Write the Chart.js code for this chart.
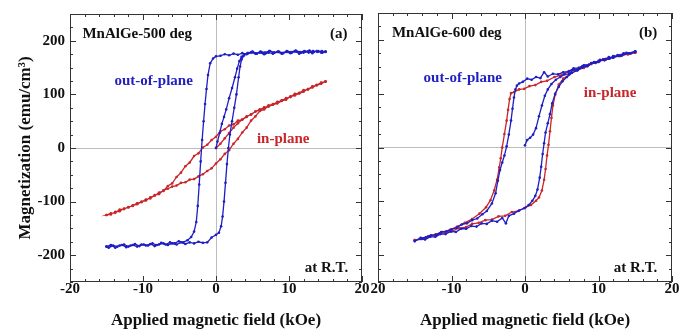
<!DOCTYPE html>
<html>
<head>
<meta charset="utf-8">
<script src="https://cdn.jsdelivr.net/npm/chart.js@4.4.1/dist/chart.umd.min.js"></script>
<style>
  html, body { margin: 0; padding: 0; background: #fff; }
  #wrap { position: relative; width: 694px; height: 331px; }
  canvas { position: absolute; left: 0; top: 0; }
</style>
</head>
<body>
<div id="wrap">
  <canvas id="chartA" width="694" height="331" style="width:694px;height:331px"></canvas>
  <canvas id="chartB" width="694" height="331" style="width:694px;height:331px"></canvas>
</div>
<script>
/* eixos */
const xTicks = [-20, -10, 0, 10, 20];
const yTicks = [-200, -100, 0, 100, 200];
const xMinorStep = 2;
const yMinorStep = 25;

/* (a) MnAlGe-500 deg, out-of-plane: virgem, descida, subida [H kOe, M emu/cm3] */
const aOutVirgin = [[0,0],[0.2,12],[0.5,28],[0.8,45],[1.1,58],[1.4,72],[1.8,93],[2.2,112],[2.6,132],[2.9,148],[3.2,162],[3.5,170],[3.9,175],[4.4,177],[5,180],[5.6,176],[6.2,179],[6.8,177],[7.4,181],[8,178],[8.6,180],[9.2,177],[9.8,180],[10.4,178],[11,181],[11.6,178],[12.2,180],[12.8,182],[13.4,179],[14,181],[14.6,178],[15,180]];
const aOutDown = [[15,180],[14.4,178],[13.8,181],[13.2,177],[12.6,180],[12,178],[11.4,176],[10.8,180],[10.2,177],[9.6,179],[9,176],[8.4,179],[7.8,176],[7.2,178],[6.6,175],[6,178],[5.4,176],[4.8,178],[4.2,175],[3.6,177],[3,174],[2.4,176],[1.8,173],[1.2,175],[0.6,172],[0,171],[-0.4,167],[-0.8,158],[-1.1,136],[-1.3,110],[-1.5,82],[-1.7,50],[-1.9,15],[-2.1,-25],[-2.3,-68],[-2.5,-108],[-2.7,-138],[-3,-156],[-3.4,-166],[-3.9,-172],[-4.5,-176],[-5.1,-174],[-5.7,-178],[-6.3,-176],[-6.9,-180],[-7.5,-177],[-8.1,-181],[-8.7,-178],[-9.3,-182],[-9.9,-180],[-10.5,-183],[-11.1,-179],[-11.7,-182],[-12.3,-185],[-12.9,-181],[-13.5,-184],[-14.1,-182],[-14.7,-186],[-15,-184]];
const aOutUp = [[-15,-184],[-14.4,-181],[-13.8,-186],[-13.2,-182],[-12.6,-180],[-12,-184],[-11.4,-181],[-10.8,-184],[-10.2,-180],[-9.6,-182],[-9,-179],[-8.4,-183],[-7.8,-180],[-7.2,-178],[-6.6,-181],[-6,-178],[-5.4,-180],[-4.8,-176],[-4.2,-179],[-3.6,-176],[-3,-178],[-2.4,-175],[-1.8,-177],[-1.2,-176],[-0.6,-167],[0,-162],[0.4,-158],[0.7,-146],[0.9,-128],[1.1,-100],[1.3,-65],[1.5,-30],[1.7,0],[1.9,25],[2.2,50],[2.5,75],[2.8,100],[3.1,132],[3.3,152],[3.5,165],[3.8,172],[4.3,177],[4.9,179],[5.5,176],[6.1,180],[6.7,178],[7.3,181],[7.9,178],[8.5,180],[9.1,177],[9.7,181],[10.3,179],[10.9,182],[11.5,179],[12.1,181],[12.7,178],[13.3,181],[13.9,179],[14.5,181],[15,179]];

/* (a) in-plane */
const aInVirgin = [[0,0],[0.6,8],[1.2,18],[1.8,28],[2.4,38],[3,46],[3.6,53],[4.2,58],[4.8,63],[5.4,68],[6,72],[6.6,75],[7.2,79],[7.8,82],[8.4,85],[9,89],[9.6,92],[10.2,96],[10.8,100],[11.4,103],[12,107],[12.6,110],[13.2,114],[13.8,118],[14.4,121],[15,124]];
const aInDown = [[15,124],[14.4,120],[13.8,117],[13.2,113],[12.6,110],[12,105],[11.4,102],[10.8,98],[10.2,96],[9.6,90],[9,88],[8.4,83],[7.8,81],[7.2,77],[6.6,76],[6,71],[5.4,68],[4.8,62],[4.2,59],[3.6,53],[3,51],[2.4,44],[1.8,42],[1.2,35],[0.6,31],[0,21],[-0.6,15],[-1.2,6],[-1.8,1],[-2.4,-10],[-3,-15],[-3.6,-27],[-4.2,-34],[-4.8,-46],[-5.4,-54],[-6,-66],[-6.6,-71],[-7.2,-80],[-7.8,-83],[-8.4,-89],[-9,-92],[-9.6,-98],[-10.2,-100],[-10.8,-105],[-11.4,-107],[-12,-111],[-12.6,-113],[-13.2,-118],[-13.8,-119],[-14.4,-124],[-15,-125]];
const aInUp = [[-15,-125],[-14.4,-122],[-13.8,-121],[-13.2,-115],[-12.6,-114],[-12,-110],[-11.4,-108],[-10.8,-103],[-10.2,-101],[-9.6,-96],[-9,-94],[-8.4,-88],[-7.8,-86],[-7.2,-79],[-6.6,-76],[-6,-72],[-5.4,-70],[-4.8,-65],[-4.2,-64],[-3.6,-59],[-3,-58],[-2.4,-53],[-1.8,-49],[-1.2,-43],[-0.6,-38],[0,-29],[0.6,-21],[1.2,-11],[1.8,-4],[2.4,8],[3,17],[3.6,29],[4.2,38],[4.8,51],[5.4,59],[6,69],[6.6,72],[7.2,79],[7.8,81],[8.4,86],[9,88],[9.6,93],[10.2,95],[10.8,101],[11.4,102],[12,108],[12.6,109],[13.2,115],[13.8,117],[14.4,122],[15,124]];

/* (b) MnAlGe-600 deg, out-of-plane */
const bOutVirgin = [[0,4],[0.3,14],[0.7,18],[1.1,24],[1.5,36],[1.9,58],[2.3,78],[2.7,96],[3.1,108],[3.6,118],[4.2,126],[4.8,131],[5.4,136],[6,137],[6.6,145],[7.2,144],[7.8,151],[8.4,151],[9,157],[9.6,157],[10.2,163],[10.8,162],[11.4,168],[12,167],[12.6,172],[13.2,171],[13.8,176],[14.4,175],[15,178]];
const bOutDown = [[15,178],[14.3,175],[13.6,174],[12.9,170],[12.2,169],[11.5,165],[10.8,164],[10.1,160],[9.4,159],[8.7,154],[8,153],[7.3,148],[6.6,147],[5.9,141],[5.2,140],[4.5,136],[3.8,137],[3.1,132],[2.6,140],[2.1,129],[1.5,131],[0.9,126],[0.3,128],[-0.3,122],[-0.8,119],[-1.1,115],[-1.3,108],[-1.5,93],[-1.7,72],[-1.9,50],[-2.2,24],[-2.5,2],[-2.8,-15],[-3.1,-28],[-3.4,-42],[-3.7,-62],[-4,-85],[-4.5,-104],[-5.2,-118],[-5.8,-124],[-6.5,-132],[-7.2,-135],[-7.9,-141],[-8.6,-143],[-9.3,-149],[-10,-152],[-10.7,-156],[-11.4,-157],[-12.1,-162],[-12.8,-163],[-13.5,-167],[-14.2,-168],[-15,-174]];
const bOutUp = [[-15,-174],[-14.3,-170],[-13.6,-171],[-12.9,-166],[-12.2,-166],[-11.5,-161],[-10.8,-161],[-10.1,-156],[-9.4,-157],[-8.7,-151],[-8,-151],[-7.3,-146],[-6.6,-147],[-5.9,-141],[-5.2,-142],[-4.5,-136],[-3.8,-138],[-3.1,-131],[-2.6,-141],[-2.2,-127],[-1.5,-123],[-0.8,-117],[-0.1,-113],[0.5,-107],[1,-99],[1.4,-90],[1.7,-78],[2,-56],[2.2,-36],[2.4,-12],[2.6,8],[2.8,28],[3.1,45],[3.4,62],[3.7,82],[4.1,100],[4.6,113],[5.1,123],[5.7,131],[6.4,139],[7.1,143],[7.8,149],[8.5,151],[9.2,157],[9.9,159],[10.6,164],[11.3,165],[12,170],[12.7,170],[13.4,175],[14.1,175],[15,179]];

/* (b) in-plane */
const bInDown = [[15,176],[14,174],[13,170],[12,168],[11,163],[10,161],[9,155],[8,152],[7,145],[6,142],[5,135],[4,131],[3,124],[2.2,122],[1.4,116],[0.6,114],[-0.1,109],[-0.8,108],[-1.5,103],[-1.9,101],[-2.1,90],[-2.3,70],[-2.5,50],[-2.8,25],[-3.1,0],[-3.3,-20],[-3.5,-37],[-3.8,-60],[-4.2,-80],[-4.7,-98],[-5.3,-111],[-6.2,-123],[-7.2,-133],[-8.2,-140],[-9.2,-147],[-10.2,-153],[-11.2,-157],[-12.2,-162],[-13.2,-165],[-14.2,-170],[-15,-172]];
const bInUp = [[-15,-172],[-14,-170],[-13,-165],[-12,-163],[-11,-158],[-10,-156],[-9,-150],[-8,-148],[-7.2,-142],[-6.3,-140],[-5.4,-135],[-4.5,-134],[-3.6,-128],[-2.7,-127],[-1.8,-120],[-0.9,-118],[0.1,-111],[0.8,-107],[1.5,-99],[1.9,-93],[2.3,-80],[2.6,-60],[2.8,-40],[3,-15],[3.2,5],[3.4,30],[3.6,55],[3.8,78],[4.1,98],[4.6,117],[5.2,128],[6,135],[7,144],[8,148],[9,156],[10,159],[11,165],[12,167],[13,172],[14,173],[15,176]];

/* textos dentro dos graficos [texto, H, M, cor, alinhamento] */
const notesA = [
  ['MnAlGe-500 deg', -18.3, 213, '#111', 'left'],
  ['(a)', 18, 213, '#111', 'right'],
  ['out-of-plane', -13.9, 125, '#1f1fc4', 'left'],
  ['in-plane', 5.6, 17, '#c8262a', 'left'],
  ['at R.T.', 18.1, -224, '#111', 'right']
];
const notesB = [
  ['MnAlGe-600 deg', -18.1, 213, '#111', 'left'],
  ['(b)', 18, 213, '#111', 'right'],
  ['out-of-plane', -13.8, 129, '#1f1fc4', 'left'],
  ['in-plane', 8, 101, '#c8262a', 'left'],
  ['at R.T.', 18, -224, '#111', 'right']
];

const BLUE = '#1f1fc4';
const RED = '#c8262a';
const serif = '"Liberation Serif", "Times New Roman", serif';

const toXY = arr => arr.map(p => ({ x: p[0], y: p[1] }));

function loopDataset(points, color) {
  return {
    data: toXY(points),
    borderColor: color,
    backgroundColor: color,
    borderWidth: 1.3,
    pointRadius: 1.3,
    pointBorderWidth: 0,
    pointHoverRadius: 0,
    showLine: true,
    tension: 0
  };
}

/* moldura, ticks internos e textos */
const frameTicks = {
  id: 'frameTicks',
  afterDraw(chart, args, opts) {
    const { ctx, chartArea: a, scales: { x, y } } = chart;
    ctx.save();
    ctx.strokeStyle = '#333';
    ctx.lineWidth = 1;
    ctx.strokeRect(a.left + 0.5, a.top + 0.5, a.right - a.left - 1, a.bottom - a.top - 1);
    ctx.beginPath();
    for (let v = x.min; v <= x.max; v += xMinorStep) {
      const px = Math.round(x.getPixelForValue(v)) + 0.5;
      const len = v % 10 === 0 ? 6 : 3;
      ctx.moveTo(px, a.bottom); ctx.lineTo(px, a.bottom - len);
      ctx.moveTo(px, a.top); ctx.lineTo(px, a.top + len);
    }
    for (let v = Math.ceil(y.min / yMinorStep) * yMinorStep; v <= y.max; v += yMinorStep) {
      const py = Math.round(y.getPixelForValue(v)) + 0.5;
      const len = v % 100 === 0 ? 6 : 3;
      ctx.moveTo(a.left, py); ctx.lineTo(a.left + len, py);
      ctx.moveTo(a.right, py); ctx.lineTo(a.right - len, py);
    }
    ctx.stroke();

    ctx.font = 'bold 15px ' + serif;
    ctx.textBaseline = 'middle';
    (opts.notes || []).forEach(n => {
      ctx.fillStyle = n[3];
      ctx.textAlign = n[4];
      ctx.fillText(n[0], x.getPixelForValue(n[1]), y.getPixelForValue(n[2]));
    });
    ctx.restore();
  }
};

function makeChart(id, datasets, notes, panel) {
  const isA = panel === 'a';
  return new Chart(document.getElementById(id), {
    type: 'scatter',
    data: { datasets: datasets },
    plugins: [frameTicks],
    options: {
      responsive: false,
      animation: false,
      devicePixelRatio: 1,
      layout: { padding: { top: 13, right: isA ? 332 : 22, left: 0, bottom: 0 } },
      plugins: {
        legend: { display: false },
        tooltip: { enabled: false },
        frameTicks: { notes: notes }
      },
      scales: {
        x: {
          type: 'linear',
          min: -20,
          max: 20,
          afterBuildTicks: s => { s.ticks = xTicks.map(v => ({ value: v })); },
          afterFit: s => { s.height = 49; },
          border: { display: false },
          grid: {
            drawTicks: false,
            lineWidth: 1,
            color: c => (c.tick && c.tick.value === 0 ? '#bdbdbd' : 'rgba(0,0,0,0)')
          },
          ticks: {
            autoSkip: false,
            maxRotation: 0,
            padding: -2,
            color: '#111',
            font: { family: serif, size: 15, weight: 'bold' },
            // no painel (b) o "-20" aparece como "20" na figura original
            callback: v => (!isA && v === -20 ? '20' : String(v))
          },
          title: {
            display: true,
            text: 'Applied magnetic field (kOe)',
            color: '#111',
            padding: 0,
            font: { family: serif, size: 17, weight: 'bold' }
          }
        },
        y: {
          type: 'linear',
          min: -250,
          max: 250,
          afterBuildTicks: s => { s.ticks = yTicks.map(v => ({ value: v })); },
          afterFit: s => { s.width = isA ? 70 : 378; },
          border: { display: false },
          grid: {
            drawTicks: false,
            lineWidth: 1,
            color: c => (c.tick && c.tick.value === 0 ? '#bdbdbd' : 'rgba(0,0,0,0)')
          },
          ticks: {
            display: isA,
            padding: 5,
            color: '#111',
            font: { family: serif, size: 15, weight: 'bold' }
          },
          title: {
            display: isA,
            text: 'Magnetization (emu/cm³)',
            color: '#111',
            padding: { top: 15, bottom: 0 },
            font: { family: serif, size: 17, weight: 'bold' }
          }
        }
      }
    }
  });
}

/* azul por cima do vermelho: dataset 0 fica no topo */
makeChart('chartA', [
  loopDataset(aOutVirgin.concat(aOutDown, aOutUp), BLUE),
  loopDataset(aInVirgin.concat(aInDown, aInUp), RED)
], notesA, 'a');

makeChart('chartB', [
  loopDataset(bOutVirgin.concat(bOutDown, bOutUp), BLUE),
  loopDataset(bInDown.concat(bInUp), RED)
], notesB, 'b');
</script>
</body>
</html>
